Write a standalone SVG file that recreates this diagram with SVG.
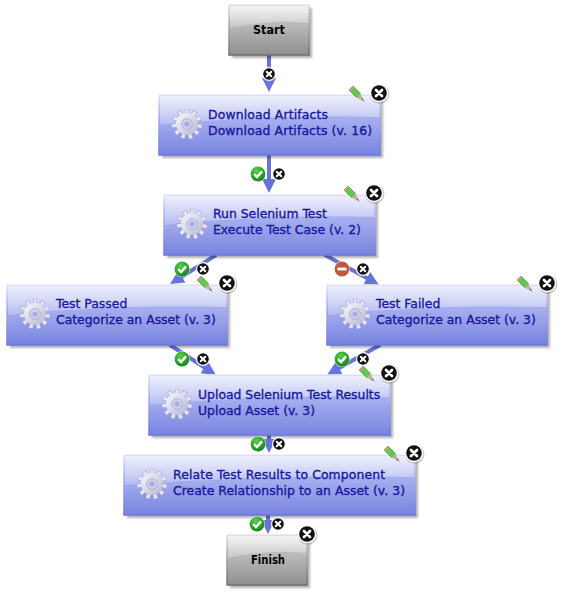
<svg xmlns="http://www.w3.org/2000/svg" width="565" height="596" viewBox="0 0 565 596">
<style>
.t{font-family:"DejaVu Sans",Verdana,sans-serif;font-size:12.4px;fill:#18189c;stroke:#18189c;stroke-width:.35px}
.s{font-family:"DejaVu Sans",Verdana,sans-serif;font-size:12px;font-weight:bold;fill:#000;text-anchor:middle}
.c{fill:none;stroke:#6873d8;stroke-width:4;marker-end:url(#arr)}
.bb{stroke:url(#blueS);stroke-width:1.5;fill:url(#blue)}
.gb{stroke:url(#greyS);stroke-width:1.5;fill:url(#grey)}
.sh{fill:#000;fill-opacity:.3;filter:url(#soft)}
.gl{fill:url(#gloss)}
</style>
<defs>
<filter id="soft" x="-5%" y="-10%" width="110%" height="120%"><feGaussianBlur stdDeviation="1"/></filter>
<linearGradient id="blue" x1="0" y1="0" x2="0" y2="1"><stop offset="0" stop-color="#b9c0f3"/><stop offset=".45" stop-color="#a2abee"/><stop offset="1" stop-color="#7884df"/></linearGradient>
<linearGradient id="blueS" x1="0" y1="0" x2="0" y2="1"><stop offset="0" stop-color="#e8eafc"/><stop offset=".4" stop-color="#a6aeee"/><stop offset="1" stop-color="#6b78d8"/></linearGradient>
<linearGradient id="grey" x1="0" y1="0" x2="0" y2="1"><stop offset="0" stop-color="#cfcfcf"/><stop offset=".45" stop-color="#b6b6b6"/><stop offset="1" stop-color="#8e8e8e"/></linearGradient>
<linearGradient id="greyS" x1="0" y1="0" x2="0" y2="1"><stop offset="0" stop-color="#e6e6e6"/><stop offset=".4" stop-color="#aaa"/><stop offset="1" stop-color="#707070"/></linearGradient>
<linearGradient id="gloss" x1="0" y1="0" x2="0" y2="1"><stop offset="0" stop-color="#fff" stop-opacity=".75"/><stop offset="1" stop-color="#fff" stop-opacity=".2"/></linearGradient>
<linearGradient id="gear" x1="0" y1="0" x2="1" y2="1"><stop offset="0" stop-color="#fafaff"/><stop offset="1" stop-color="#b4b4d2"/></linearGradient>
<radialGradient id="grn" cx=".4" cy=".3" r=".8"><stop offset="0" stop-color="#5ccf4e"/><stop offset="1" stop-color="#0b7d14"/></radialGradient>
<marker id="arr" markerUnits="userSpaceOnUse" markerWidth="16" markerHeight="16" refX="4" refY="8" orient="auto"><path d="M0 1L14 8L0 15z" fill="#6873d8"/></marker>
<g id="gearI"><circle r="12.6" fill="none" stroke="#9c9cc0" stroke-width="5.2" stroke-dasharray="4 3.14"/><circle r="12.6" fill="none" stroke="#e6e6f4" stroke-width="4.4" stroke-dasharray="3.2 3.94" stroke-dashoffset="-.4"/><circle r="11" fill="url(#gear)"/><circle r="5.4" fill="#d0d0e6" stroke="#a8a8c8" stroke-width=".8"/><circle r="2.6" fill="#a4acec"/></g>
<g id="xs"><circle r="7.2" fill="#fff" opacity=".85"/><circle r="5.8" fill="#111"/><path d="M-2.3-2.3L2.3 2.3M2.3-2.3L-2.3 2.3" stroke="#fff" stroke-width="2" stroke-linecap="round"/></g>
<g id="xl"><circle cx=".7" cy="1" r="9.8" fill="#000" opacity=".2"/><circle r="9.2" fill="#fff"/><circle r="7.8" fill="#111"/><path d="M-3-3L3 3M3-3L-3 3" stroke="#fff" stroke-width="2.7" stroke-linecap="round"/></g>
<g id="ok"><circle r="8" fill="#fff" opacity=".7"/><circle r="7.4" fill="url(#grn)"/><path d="M-3.8 .2L-1 3L4 -2.6" fill="none" stroke="#fff" stroke-width="2.4"/></g>
<g id="no"><circle r="8" fill="#fff" opacity=".7"/><circle r="7.4" fill="#bf5a3e"/><rect x="-4.5" y="-1.4" width="9" height="2.8" fill="#fff"/></g>
<g id="pen"><path d="M-7-3.5L-4-7L2 -.5L7.5 7.5L-.5 3z" fill="#000" opacity=".18" transform="translate(1 1)"/><path d="M-8-4L-4-8L3.5-.5L-.5 3.5z" fill="#62c84e" stroke="#2f8f2a" stroke-width=".6"/><path d="M-8-4L-4-8L-2.7-6.7L-6.7-2.7z" fill="#e89090"/><path d="M-.5 3.5L3.5-.5L7 7z" fill="#c2b29a"/><path d="M4.5 5.5L5.5 4.5L7 7z" fill="#555"/></g>
</defs>
<g id="connectors">
<path class="c" d="M269 55V82"/>
<path class="c" d="M269 155V183"/>
<path class="c" d="M216 255L178.5 278.7"/>
<path class="c" d="M325 255L370.3 280.1"/>
<path class="c" d="M170 345L207.6 369.5"/>
<path class="c" d="M380 345L335.7 370.1"/>
<path class="c" d="M269 435V443"/>
<path class="c" d="M268 515V524"/>
</g>
<g id="start"><rect class="sh" x="232" y="8" width="80" height="50"/><rect class="gb" x="229" y="5" width="80" height="50"/><path class="gl" d="M230 6H308V23Q269 19 230 28z"/><text class="s" x="269" y="34" textLength="32" lengthAdjust="spacingAndGlyphs">Start</text></g>
<g id="download"><rect class="sh" x="162" y="98" width="221" height="60"/><rect class="bb" x="159" y="95" width="221" height="60"/><path class="gl" d="M160 96H379V117Q269 114 160 125z"/><use href="#gearI" x="187" y="124"/><text class="t" x="208" y="119" textLength="120">Download Artifacts</text><text class="t" x="208" y="135" textLength="164">Download Artifacts (v. 16)</text><use href="#pen" x="357" y="94"/><use href="#xl" x="379" y="93"/></g>
<g id="run"><rect class="sh" x="167" y="198" width="211" height="60"/><rect class="bb" x="164" y="195" width="211" height="60"/><path class="gl" d="M165 196H374V217Q269 214 165 225z"/><use href="#gearI" x="192" y="224"/><text class="t" x="213" y="218">Run Selenium Test</text><text class="t" x="213" y="234">Execute Test Case (v. 2)</text><use href="#pen" x="352" y="194"/><use href="#xl" x="374" y="193"/></g>
<g id="passed"><rect class="sh" x="10" y="288" width="220" height="60"/><rect class="bb" x="7" y="285" width="220" height="60"/><path class="gl" d="M8 286H226V307Q117 304 8 315z"/><use href="#gearI" x="35" y="314"/><text class="t" x="56" y="308">Test Passed</text><text class="t" x="56" y="324">Categorize an Asset (v. 3)</text><use href="#pen" x="205" y="284"/><use href="#xl" x="227" y="283"/></g>
<g id="failed"><rect class="sh" x="330" y="288" width="220" height="60"/><rect class="bb" x="327" y="285" width="220" height="60"/><path class="gl" d="M328 286H546V307Q437 304 328 315z"/><use href="#gearI" x="355" y="314"/><text class="t" x="376" y="308">Test Failed</text><text class="t" x="376" y="324">Categorize an Asset (v. 3)</text><use href="#pen" x="525" y="284"/><use href="#xl" x="547" y="283"/></g>
<g id="upload"><rect class="sh" x="152" y="378" width="241" height="60"/><rect class="bb" x="149" y="375" width="241" height="60"/><path class="gl" d="M150 376H389V397Q269 394 150 405z"/><use href="#gearI" x="177" y="404"/><text class="t" x="198" y="399">Upload Selenium Test Results</text><text class="t" x="198" y="415">Upload Asset (v. 3)</text><use href="#pen" x="367" y="374"/><use href="#xl" x="389" y="373"/></g>
<g id="relate"><rect class="sh" x="127" y="458" width="291" height="60"/><rect class="bb" x="124" y="455" width="291" height="60"/><path class="gl" d="M125 456H414V477Q269 474 125 485z"/><use href="#gearI" x="152" y="484"/><text class="t" x="173" y="479" textLength="212">Relate Test Results to Component</text><text class="t" x="173" y="495" textLength="232">Create Relationship to an Asset (v. 3)</text><use href="#pen" x="392" y="454"/><use href="#xl" x="414" y="453"/></g>
<g id="finish"><rect class="sh" x="230" y="538" width="80" height="50"/><rect class="gb" x="227" y="535" width="80" height="50"/><path class="gl" d="M228 536H306V553Q267 549 228 558z"/><text class="s" x="268" y="564" textLength="34" lengthAdjust="spacingAndGlyphs">Finish</text><use href="#xl" x="307" y="534"/></g>
<g id="link-icons">
<use href="#xs" x="269" y="74"/>
<use href="#ok" x="258" y="174"/><use href="#xs" x="279" y="174"/>
<use href="#ok" x="182" y="269"/><use href="#xs" x="203" y="269"/>
<use href="#no" x="342" y="269"/><use href="#xs" x="363" y="269"/>
<use href="#ok" x="182" y="359"/><use href="#xs" x="203" y="359"/>
<use href="#ok" x="342" y="359"/><use href="#xs" x="363" y="359"/>
<use href="#ok" x="258" y="444"/><use href="#xs" x="279" y="444"/>
<use href="#ok" x="257" y="524"/><use href="#xs" x="278" y="524"/>
</g>
</svg>
